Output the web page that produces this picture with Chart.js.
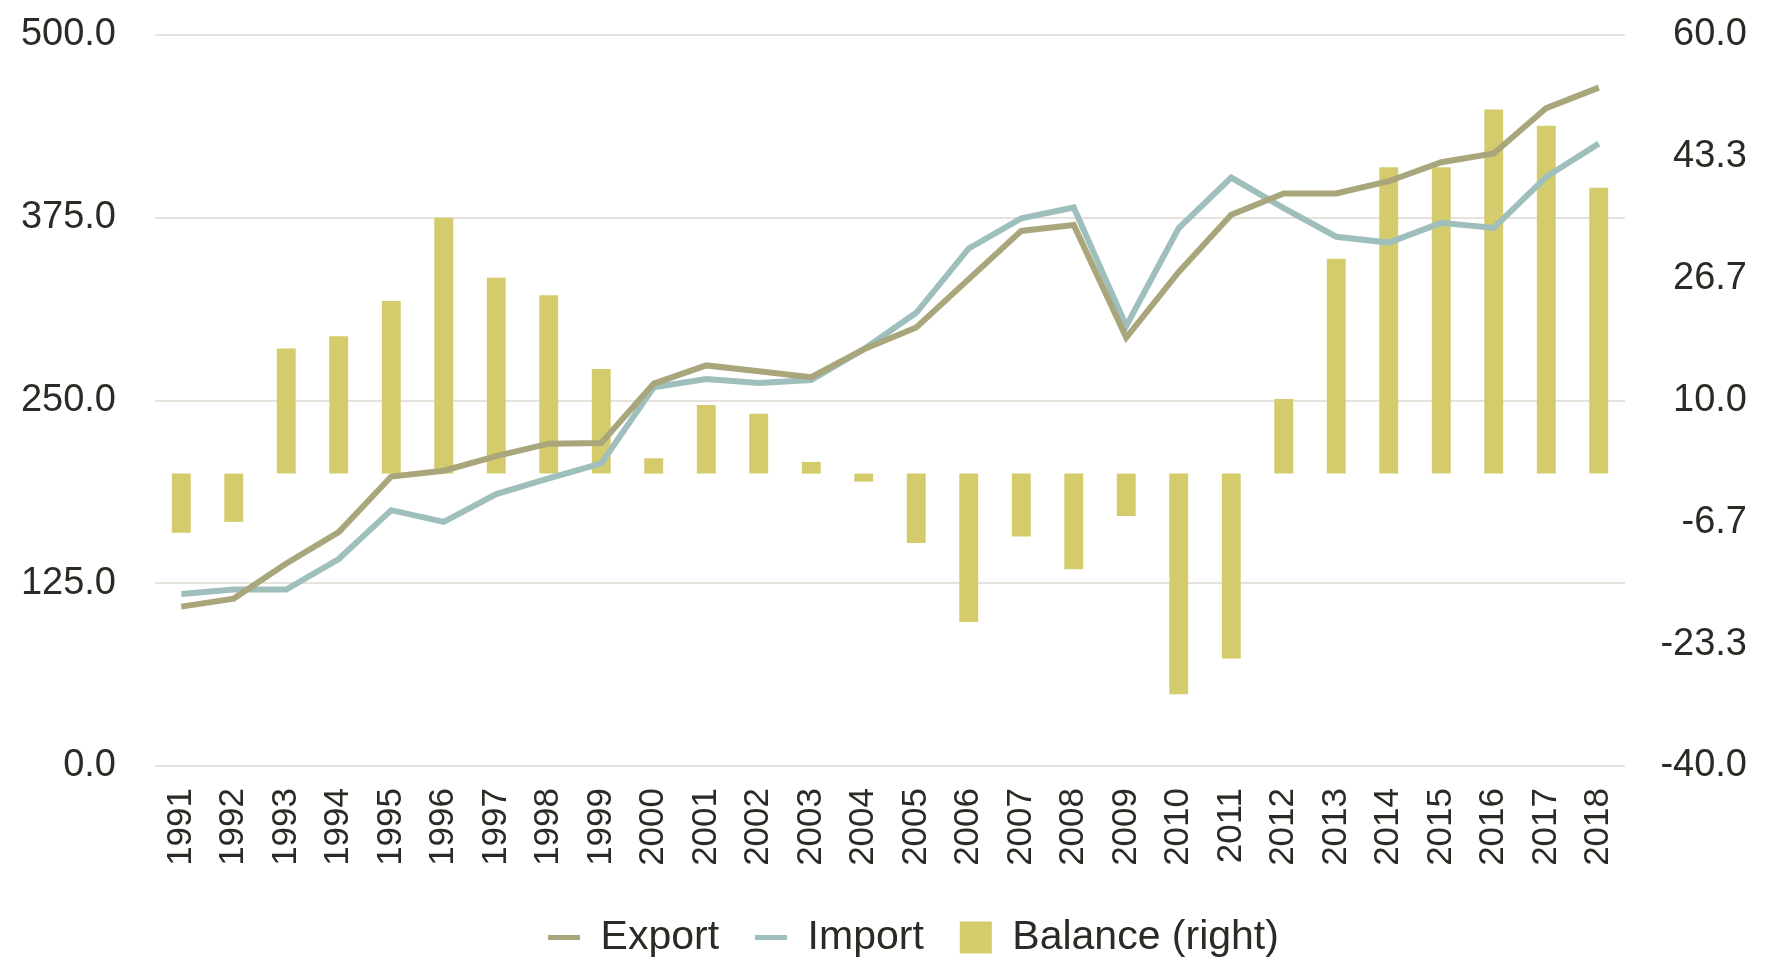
<!DOCTYPE html>
<html>
<head>
<meta charset="utf-8">
<script src="https://cdn.jsdelivr.net/npm/chart.js@4"></script>
<style>
  html, body { margin: 0; padding: 0; background: #ffffff; }
  #wrap { width: 1773px; height: 962px; }
</style>
</head>
<body>
<div id="wrap"><canvas id="chart"></canvas></div>
<script>
// trade data, 1991-2018
const years = ['1991', '1992', '1993', '1994', '1995', '1996', '1997', '1998', '1999', '2000',
  '2001', '2002', '2003', '2004', '2005', '2006', '2007', '2008', '2009', '2010',
  '2011', '2012', '2013', '2014', '2015', '2016', '2017', '2018'];

const exportValues = [109, 114.5, 138.5, 160, 198, 202, 212, 220.5, 221, 261.6,
  274, 270, 266, 285, 300, 333, 366, 370, 293, 338,
  377, 391.6, 391.6, 400, 413, 419, 450, 464];

const importValues = [117.6, 120.7, 120.7, 141.6, 175, 167, 186, 196.7, 207, 259,
  264.7, 262, 264, 285, 310, 354, 374.6, 382, 301, 368,
  402.5, 381.6, 362, 358, 371.5, 368, 403, 425.7];

const balanceValues = [-8.1, -6.6, 17.1, 18.8, 23.6, 35.0, 26.8, 24.4, 14.3, 2.1,
  9.4, 8.2, 1.6, -1.1, -9.5, -20.3, -8.6, -13.1, -5.8, -30.2,
  -25.3, 10.2, 29.4, 41.9, 41.9, 49.8, 47.6, 39.1];

const textColor = '#2b2a24';
const gridColor = '#e6e3dc';
const fontFamily = '"Liberation Sans", Arial, Helvetica, sans-serif';

// drop the automatic label padding so the plot box lands where the original is
function noAutoPadding(scale) {
  scale.paddingTop = 0;
  scale.paddingBottom = 0;
  scale.paddingLeft = 0;
  scale.paddingRight = 0;
}

// the original legend sits a bit right of the canvas centre
const legendShift = {
  id: 'legendShift',
  afterLayout(chart) {
    if (!chart.legend) return;
    chart.legend.left += 40;
    chart.legend.right += 40;
  },
};

const ctx = document.getElementById('chart').getContext('2d');
new Chart(ctx, {
  type: 'bar',
  data: {
    labels: years,
    datasets: [{
      type: 'line',
      label: 'Export',
      data: exportValues,
      borderColor: '#a9a67c',
      backgroundColor: '#a9a67c',
      borderWidth: 6,
      pointRadius: 0,
      tension: 0,
      yAxisID: 'y',
    }, {
      type: 'line',
      label: 'Import',
      data: importValues,
      borderColor: '#9ebfbc',
      backgroundColor: '#9ebfbc',
      borderWidth: 6,
      pointRadius: 0,
      tension: 0,
      yAxisID: 'y',
    }, {
      type: 'bar',
      label: 'Balance (right)',
      data: balanceValues,
      backgroundColor: '#d3cb6c',
      borderWidth: 0,
      barPercentage: 0.9,
      categoryPercentage: 0.4,
      yAxisID: 'y1',
    }],
  },
  plugins: [legendShift],
  options: {
    responsive: true,
    maintainAspectRatio: false,
    animation: false,
    layout: { padding: { left: 0, right: 26, top: 35, bottom: -6 } },
    plugins: {
      tooltip: { enabled: false },
      legend: {
        position: 'bottom',
        labels: {
          color: textColor,
          font: { family: fontFamily, size: 41 },
          usePointStyle: true,
          pointStyleWidth: 32,
          boxHeight: 32,
          padding: 36,
          generateLabels(chart) {
            const items = Chart.defaults.plugins.legend.labels.generateLabels(chart);
            items.forEach((it, i) => {
              const ds = chart.data.datasets[i];
              if (ds.type === 'line') {
                it.pointStyle = 'line';
                it.lineWidth = 5;
                it.strokeStyle = ds.borderColor;
              } else {
                it.pointStyle = 'rect';
                it.lineWidth = 0;
              }
            });
            return items;
          },
        },
      },
    },
    scales: {
      x: {
        offset: true,
        grid: { display: false, drawTicks: false },
        border: { display: false },
        ticks: {
          color: textColor,
          font: { family: fontFamily, size: 35 },
          minRotation: 90,
          maxRotation: 90,
          autoSkip: false,
          padding: 22,
        },
        afterFit(scale) {
          noAutoPadding(scale);
          scale.height = 115;
        },
      },
      y: {
        position: 'left',
        min: 0,
        max: 500,
        grid: { color: gridColor, lineWidth: 2, drawTicks: false },
        border: { display: false },
        ticks: {
          stepSize: 125,
          color: textColor,
          font: { family: fontFamily, size: 38 },
          padding: 39,
          callback: v => v.toFixed(1),
        },
        afterFit(scale) {
          noAutoPadding(scale);
          scale.width = 155;
        },
      },
      y1: {
        position: 'right',
        min: -40,
        max: 60,
        grid: { display: false, drawTicks: false },
        border: { display: false },
        ticks: {
          count: 7,
          color: textColor,
          font: { family: fontFamily, size: 38 },
          padding: 35,
          crossAlign: 'far',
          callback: v => v.toFixed(1),
        },
        afterFit(scale) {
          noAutoPadding(scale);
          scale.width = 122;
        },
      },
    },
  },
});
</script>
</body>
</html>
